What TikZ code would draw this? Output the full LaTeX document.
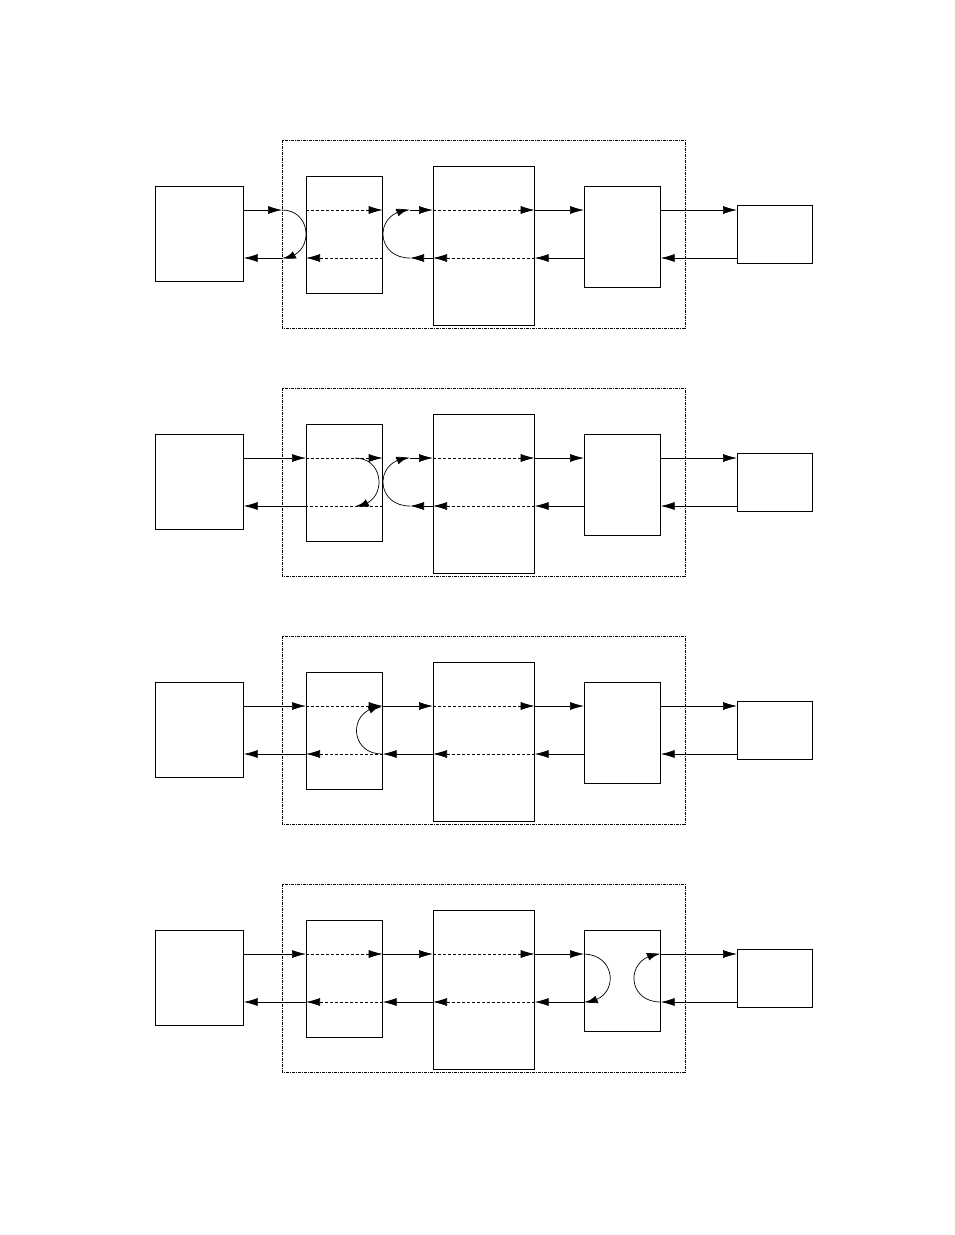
\documentclass[tikz,border=0pt]{standalone}
\usetikzlibrary{arrows.meta,bending}
\begin{document}
\begin{tikzpicture}[x=1pt,y=-1pt,line width=0.7pt,
  box/.style={draw,inner sep=0pt,anchor=north west},
  arr/.style={-{Latex[length=14pt,width=8pt]}},
  carr/.style={-{Latex[length=14pt,width=8pt,bend]}},
  darr/.style={arr,densely dashed},
  frame/.style={draw,dash pattern=on 3pt off 1pt on 1pt off 1pt,line width=0.5pt}]
\useasboundingbox (0,0) rectangle (954,1235);
\foreach \p/\o in {1/0,2/248,3/496,4/744}{
  \draw[frame] (282,140+\o) rectangle (685,328+\o);
  \node[box,minimum width=88pt,minimum height=95pt] (A\p) at (155,186+\o) {};
  \node[box,minimum width=76pt,minimum height=117pt] (B\p) at (306,176+\o) {};
  \node[box,minimum width=101pt,minimum height=159pt] (C\p) at (433,166+\o) {};
  \node[box,minimum width=76pt,minimum height=101pt] (D\p) at (584,186+\o) {};
  \node[box,minimum width=75pt,minimum height=58pt] (E\p) at (737,205+\o) {};
  \coordinate (t\p) at (0,210+\o);
  \coordinate (b\p) at (0,258+\o);
  \draw[arr] (D\p.east|-t\p) -- (E\p.west|-t\p);
  \draw[arr] (E\p.west|-b\p) -- (D\p.east|-b\p);
}
% ---- panel 1
\draw[arr] (A1.east|-t1) -- (282,210);
\draw[carr] (282,210) .. controls (314,210) and (314,258) .. (282,258);
\draw[arr] (282,258) -- (A1.east|-b1);
\draw[darr] (B1.west|-t1) -- (B1.east|-t1);
\draw[darr] (B1.east|-b1) -- (B1.west|-b1);
\draw[arr] (C1.west|-b1) -- (410,258);
\draw[carr] (410,258) .. controls (374,258) and (374,210) .. (410,210);
\draw[arr] (410,210) -- (C1.west|-t1);
\foreach \p in {1,2,3,4}{
  \draw[darr] (C\p.west|-t\p) -- (C\p.east|-t\p);
  \draw[darr] (C\p.east|-b\p) -- (C\p.west|-b\p);
}
\foreach \p in {1,2,3}{
  \draw[arr] (C\p.east|-t\p) -- (D\p.west|-t\p);
  \draw[arr] (D\p.west|-b\p) -- (C\p.east|-b\p);
}
% ---- panel 2
\draw[arr] (A2.east|-t2) -- (B2.west|-t2);
\draw[arr] (B2.west|-b2) -- (A2.east|-b2);
\draw[darr] (B2.west|-t2) -- (B2.east|-t2);
\draw[densely dashed] (B2.east|-b2) -- (B2.west|-b2);
\draw[carr] (355,458) .. controls (387,458) and (387,506) .. (355,506);
\draw[arr] (C2.west|-b2) -- (410,506);
\draw[carr] (410,506) .. controls (374,506) and (374,458) .. (410,458);
\draw[arr] (410,458) -- (C2.west|-t2);
% ---- panel 3
\draw[arr] (A3.east|-t3) -- (B3.west|-t3);
\draw[arr] (B3.west|-b3) -- (A3.east|-b3);
\draw[darr] (B3.west|-t3) -- (B3.east|-t3);
\draw[darr] (B3.east|-b3) -- (B3.west|-b3);
\draw[carr] (382,754) .. controls (348,754) and (348,707) .. (382,707);
\draw[arr] (B3.east|-t3) -- (C3.west|-t3);
\draw[arr] (C3.west|-b3) -- (B3.east|-b3);
% ---- panel 4
\draw[arr] (A4.east|-t4) -- (B4.west|-t4);
\draw[arr] (B4.west|-b4) -- (A4.east|-b4);
\draw[darr] (B4.west|-t4) -- (B4.east|-t4);
\draw[darr] (B4.east|-b4) -- (B4.west|-b4);
\draw[arr] (B4.east|-t4) -- (C4.west|-t4);
\draw[arr] (C4.west|-b4) -- (B4.east|-b4);
\draw[arr] (C4.east|-t4) -- (D4.west|-t4);
\draw[arr] (D4.west|-b4) -- (C4.east|-b4);
\draw[carr] (D4.west|-t4) .. controls (619,955) and (619,1002) .. (D4.west|-b4);
\draw[carr] (D4.east|-b4) .. controls (625,1002) and (625,955) .. (D4.east|-t4);
\end{tikzpicture}
\end{document}
